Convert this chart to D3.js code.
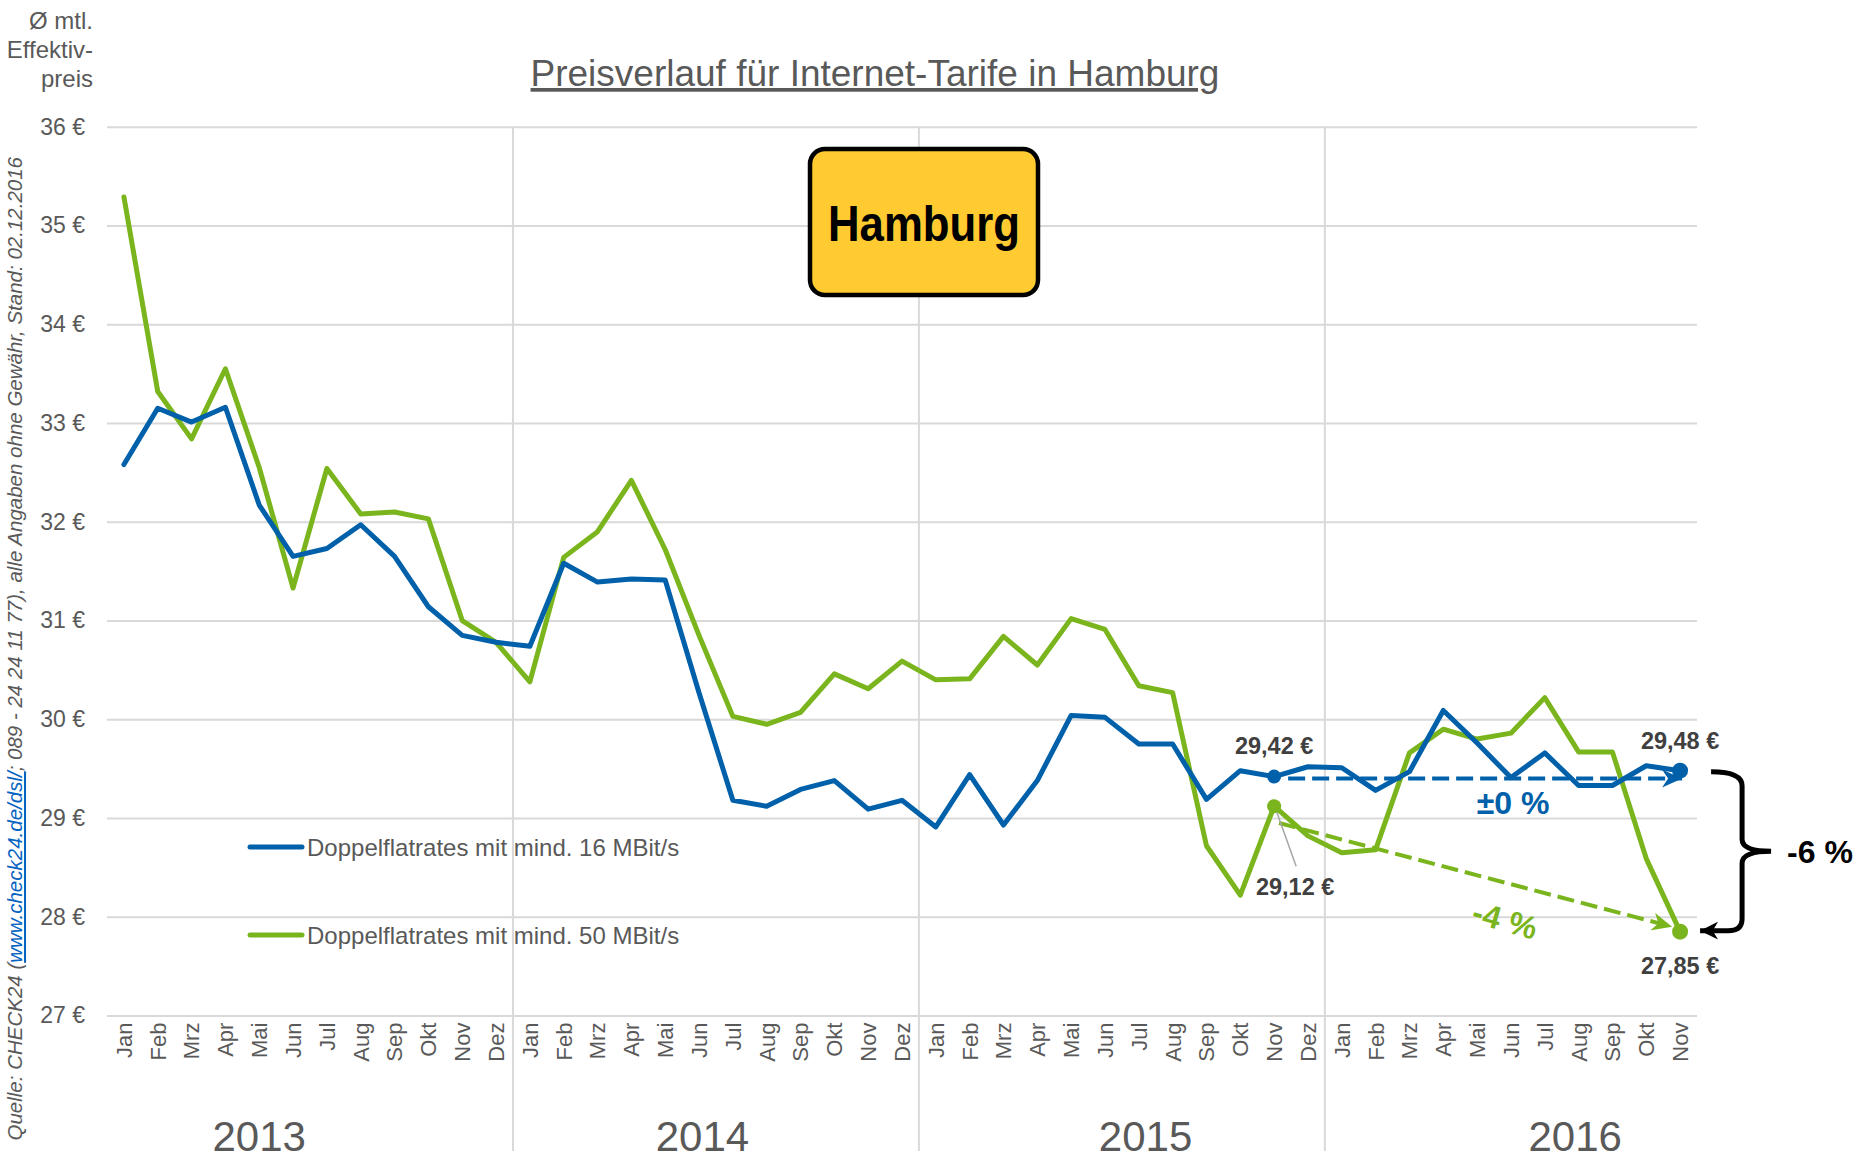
<!DOCTYPE html>
<html><head><meta charset="utf-8">
<script src="https://cdn.jsdelivr.net/npm/d3@7"></script>
<style>body{margin:0;background:#fff}svg{display:block}</style>
</head><body>
<svg id="chart" width="1858" height="1160"></svg>
<script>
// ---------------- data ----------------
const monthNames = ["Jan","Feb","Mrz","Apr","Mai","Jun","Jul","Aug","Sep","Okt","Nov","Dez"];
const years = ["2013","2014","2015","2016"];
const monthsPerYear = [12, 12, 12, 11];
const yTicks = [27, 28, 29, 30, 31, 32, 33, 34, 35, 36];
const seriesNames = ["Doppelflatrates mit mind. 16 MBit/s", "Doppelflatrates mit mind. 50 MBit/s"];
const values16 = [
  32.58, 33.15, 33.01, 33.16, 32.17, 31.65, 31.73, 31.97, 31.65, 31.14, 30.85, 30.78,
  30.74, 31.58, 31.39, 31.42, 31.41, 30.27, 29.18, 29.12, 29.29, 29.38, 29.09, 29.18,
  28.91, 29.44, 28.93, 29.38, 30.04, 30.02, 29.75, 29.75, 29.19, 29.48, 29.42, 29.52,
  29.51, 29.28, 29.47, 30.09, 29.76, 29.41, 29.66, 29.33, 29.33, 29.53, 29.48
];
const values50 = [
  35.29, 33.32, 32.84, 33.55, 32.55, 31.33, 32.54, 32.08, 32.10, 32.03, 31.00, 30.78,
  30.38, 31.64, 31.90, 32.42, 31.72, 30.85, 30.03, 29.95, 30.07, 30.46, 30.31, 30.59,
  30.40, 30.41, 30.84, 30.55, 31.02, 30.91, 30.34, 30.27, 28.72, 28.22, 29.12, 28.82,
  28.65, 28.68, 29.66, 29.90, 29.80, 29.86, 30.22, 29.67, 29.67, 28.59, 27.85
];
const startLabels = ["29,42 €", "29,12 €"];
const endLabels = ["29,48 €", "27,85 €"];
const changeLabels = ["±0 %", "-4 %", "-6 %"];

// categories built from month names and years
const categories = [];
years.forEach((yr, yi) => {
  for (let m = 0; m < monthsPerYear[yi]; m++) categories.push({ year: yr, month: monthNames[m] });
});

// ---------------- layout ----------------
const W = 1858, H = 1160;
const L = 107, R = 1697, T = 126.8, B = 1015.6;
const blue = "#0060a9", green = "#7ab51d", grid = "#d9d9d9", txt = "#595959", dark = "#404040";
const font = "'Liberation Sans', Arial, sans-serif";
const yearLabelAt = [4, 17.1, 30.2, 42.9];

const svg = d3.select("#chart").style("font-family", font);

const idx = d3.range(categories.length);
const x = d3.scaleBand().domain(idx).range([L, R]).paddingInner(0).paddingOuter(0);
const bw = x.bandwidth();
const xc = i => x(i) + bw / 2;
const xf = f => L + (f + 0.5) * x.step();
const y = d3.scaleLinear().domain([27, 36]).range([B, T]);

const defs = svg.append("defs");
function marker(id, color, len, half) {
  defs.append("marker").attr("id", id).attr("viewBox", `${-len} ${-half} ${len + 1} ${half * 2}`)
    .attr("refX", 0).attr("refY", 0).attr("markerUnits", "userSpaceOnUse")
    .attr("markerWidth", len + 1).attr("markerHeight", half * 2).attr("orient", "auto")
    .append("path").attr("d", `M0,0 L${-len},${-half} L${-len * 0.7},0 L${-len},${half} Z`).attr("fill", color);
}
marker("arrBlue", blue, 20, 9);
marker("arrGreen", green, 20, 9);
marker("arrBlack", "#000", 18, 9);

// y axis with gridlines
const yAxis = d3.axisLeft(y).tickValues(yTicks).tickFormat(d => d + " €")
  .tickSize(-(R - L)).tickPadding(22);
const gy = svg.append("g").attr("transform", `translate(${L},0)`).call(yAxis);
gy.select(".domain").remove();
gy.selectAll(".tick line").attr("stroke", grid).attr("stroke-width", 2);
gy.selectAll(".tick text").attr("fill", txt).style("font-size", "23px").style("font-family", font);

// year separators
[12, 24, 36].forEach(i => {
  svg.append("line").attr("x1", x(i)).attr("x2", x(i)).attr("y1", T).attr("y2", 1151)
    .attr("stroke", grid).attr("stroke-width", 2);
});

// x axis month labels
const xAxis = d3.axisBottom(x).tickFormat(i => categories[i].month).tickSize(0);
const gx = svg.append("g").attr("transform", `translate(0,${B})`).call(xAxis);
gx.select(".domain").remove();
gx.selectAll(".tick text").attr("transform", "rotate(-90)").attr("x", -7).attr("y", 0)
  .attr("dy", "0.36em").style("text-anchor", "end").attr("fill", txt)
  .style("font-size", "22px").style("font-family", font);

// year labels
years.forEach((yr, k) => {
  svg.append("text").attr("x", xf(yearLabelAt[k])).attr("y", 1151).attr("text-anchor", "middle")
    .attr("fill", txt).style("font-size", "42px").text(yr);
});

// axis title
["Ø mtl.", "Effektiv-", "preis"].forEach((t, k) => {
  svg.append("text").attr("x", 93).attr("y", 29 + k * 29).attr("text-anchor", "end")
    .attr("fill", txt).style("font-size", "24px").text(t);
});

// chart title
svg.append("text").attr("x", 875).attr("y", 86).attr("text-anchor", "middle").attr("fill", txt)
  .style("font-size", "37px").style("text-decoration", "underline")
  .text("Preisverlauf für Internet-Tarife in Hamburg");

// source text (rotated)
const src = svg.append("text").attr("transform", "translate(22,157) rotate(-90)")
  .attr("text-anchor", "end").style("font-size", "20.5px").style("font-style", "italic").attr("fill", txt);
src.append("tspan").text("Quelle: CHECK24 (");
src.append("tspan").attr("fill", "#0563c1").style("text-decoration", "underline").text("www.check24.de/dsl/");
src.append("tspan").text("; 089 - 24 24 11 77), alle Angaben ohne Gewähr, Stand: 02.12.2016");

// series lines
const line = d3.line().x((d, i) => xc(i)).y(d => y(d));
[[values50, green], [values16, blue]].forEach(([vals, col]) => {
  svg.append("path").datum(vals).attr("d", line).attr("fill", "none").attr("stroke", col)
    .attr("stroke-width", 5).attr("stroke-linejoin", "round").attr("stroke-linecap", "round");
});

// annotations
const iS = 34, iE = categories.length - 1;
// blue dashed arrow (horizontal)
svg.append("line").attr("x1", xc(iS) + 14).attr("x2", xc(iE) + 2)
  .attr("y1", y(values16[iS]) + 2).attr("y2", y(values16[iS]) + 2)
  .attr("stroke", blue).attr("stroke-width", 4).attr("stroke-dasharray", "17,7")
  .attr("marker-end", "url(#arrBlue)");
// green dashed arrow
svg.append("line").attr("x1", xc(iS) + 5).attr("y1", y(28.95))
  .attr("x2", xc(iE) - 8).attr("y2", y(27.9))
  .attr("stroke", green).attr("stroke-width", 4).attr("stroke-dasharray", "17,7")
  .attr("marker-end", "url(#arrGreen)");
// leader line for 29,12
svg.append("line").attr("x1", xc(iS) + 2).attr("y1", y(values50[iS]) + 4)
  .attr("x2", xc(iS) + 22).attr("y2", y(values50[iS]) + 60)
  .attr("stroke", "#a6a6a6").attr("stroke-width", 1.5);

// dots
[[values16, blue], [values50, green]].forEach(([vals, col]) => {
  [iS, iE].forEach(i => {
    svg.append("circle").attr("cx", xc(i)).attr("cy", y(vals[i])).attr("r", i === iE ? 8 : 7).attr("fill", col);
  });
});

// value labels
function vlabel(xp, yp, t) {
  svg.append("text").attr("x", xp).attr("y", yp).attr("text-anchor", "middle").attr("fill", dark)
    .style("font-size", "23.5px").style("font-weight", "bold").text(t);
}
vlabel(xc(iS), y(values16[iS]) - 23, startLabels[0]);
vlabel(xc(iS) + 21, y(values50[iS]) + 89, startLabels[1]);
vlabel(xc(iE), y(values16[iE]) - 22, endLabels[0]);
vlabel(xc(iE), y(values50[iE]) + 42, endLabels[1]);

// change labels
svg.append("text").attr("x", 1513).attr("y", y(values16[iS]) + 37).attr("text-anchor", "middle")
  .attr("fill", blue).style("font-size", "32px").style("font-weight", "bold").text(changeLabels[0]);
svg.append("text").attr("transform", "translate(1505,920) rotate(16)").attr("text-anchor", "middle")
  .attr("dy", "0.35em").attr("fill", green).style("font-size", "32px").style("font-weight", "bold")
  .text(changeLabels[1]);

// bracket
const xe = xc(iE), yt = y(values16[iE]) + 1, yb = y(values50[iE]) - 1, ym = (yt + yb) / 2;
const bx = xe + 62;
const bp = `M${xe + 31},${yt} Q${bx},${yt} ${bx},${yt + 14} L${bx},${ym - 12} Q${bx},${ym} ${bx + 29},${ym} ` +
  `Q${bx},${ym} ${bx},${ym + 12} L${bx},${yb - 12} Q${bx},${yb} ${bx - 14},${yb} L${xe + 20},${yb}`;
svg.append("path").attr("d", bp).attr("fill", "none").attr("stroke", "#000").attr("stroke-width", 5)
  .attr("marker-end", "url(#arrBlack)");
svg.append("text").attr("x", xe + 107).attr("y", ym + 12).attr("fill", "#000")
  .style("font-size", "32px").style("font-weight", "bold").text(changeLabels[2]);

// legend
[[blue, 847], [green, 935]].forEach(([col, ly], k) => {
  svg.append("line").attr("x1", 250).attr("x2", 302).attr("y1", ly).attr("y2", ly)
    .attr("stroke", col).attr("stroke-width", 5).attr("stroke-linecap", "round");
  svg.append("text").attr("x", 307).attr("y", ly + 8.5).attr("fill", txt).style("font-size", "24px")
    .text(seriesNames[k]);
});

// Hamburg sign
svg.append("rect").attr("x", 810).attr("y", 149).attr("width", 228).attr("height", 146).attr("rx", 15)
  .attr("fill", "#ffcb31").attr("stroke", "#000").attr("stroke-width", 4.5);
svg.append("text").attr("x", 924).attr("y", 241).attr("text-anchor", "middle").attr("fill", "#000")
  .style("font-size", "50px").style("font-weight", "bold")
  .attr("textLength", 192).attr("lengthAdjust", "spacingAndGlyphs").text("Hamburg");
</script>
</body></html>
